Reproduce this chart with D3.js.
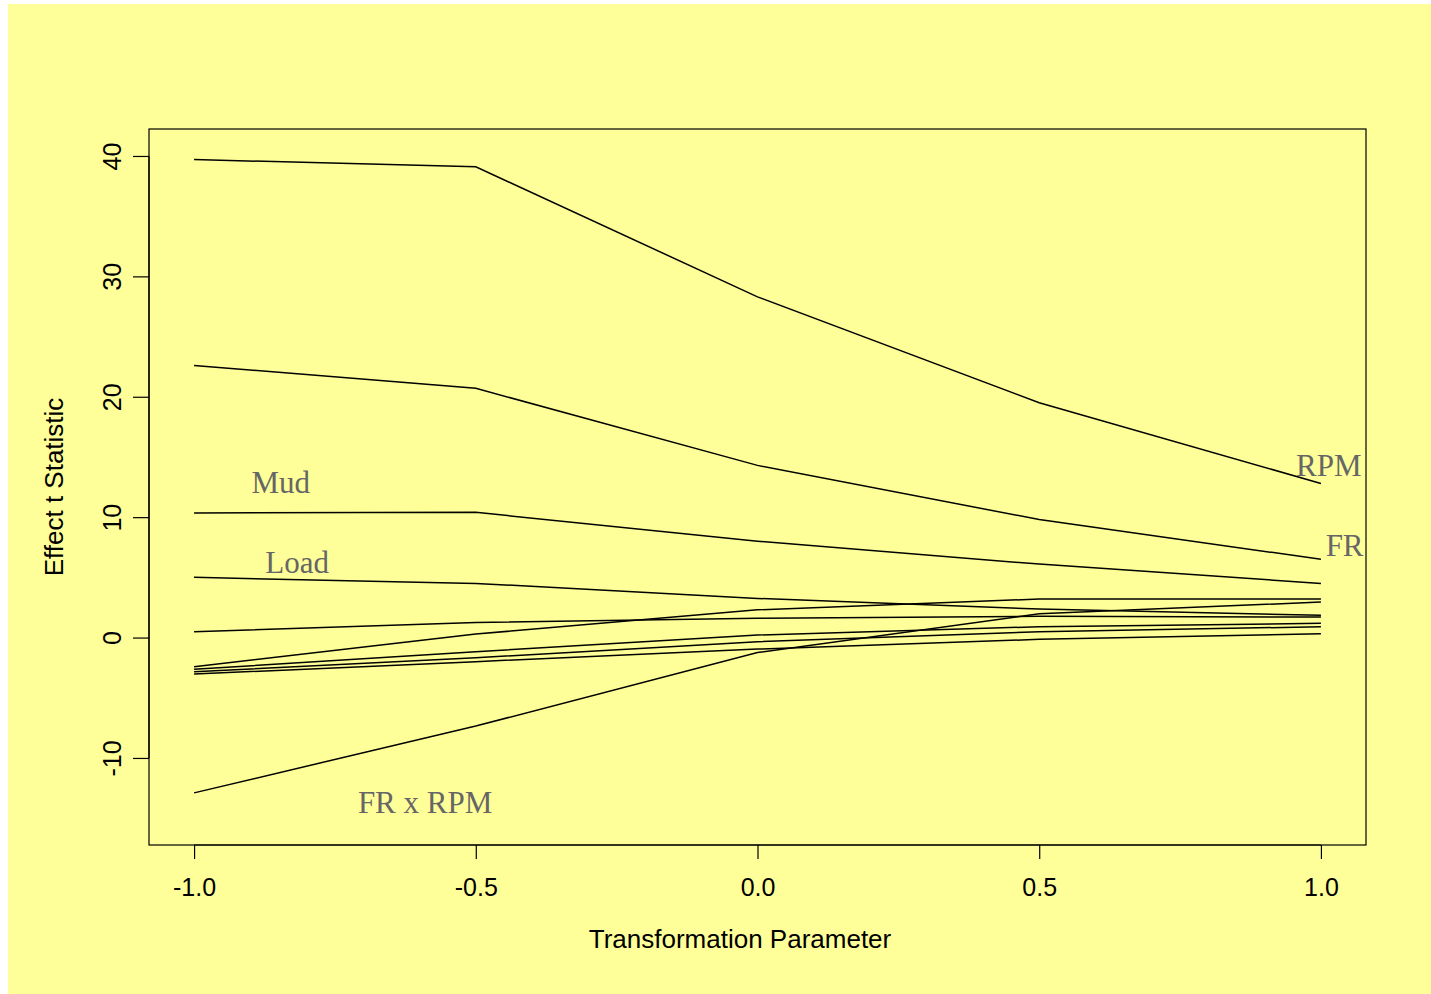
<!DOCTYPE html>
<html>
<head>
<meta charset="utf-8">
<script src="https://cdn.jsdelivr.net/npm/d3@7"></script>
<style>
  html, body { margin: 0; padding: 0; background: #ffffff; }
  svg { display: block; }
</style>
</head>
<body>
<svg id="chart" width="1431" height="994"></svg>
<script>
// Transformation parameter values (x) shared by every effect curve
const lambdas = [-1.0, -0.5, 0.0, 0.5, 1.0];

// Effect t statistics per transformation parameter
const rpm     = [39.7, 39.1, 28.3, 19.5, 12.8];
const fr      = [22.6, 20.7, 14.3, 9.8, 6.5];
const mud     = [10.35, 10.4, 8.0, 6.1, 4.5];
const load    = [5.0, 4.5, 3.25, 2.37, 1.85];
const effectB = [-2.43, 0.29, 2.3, 3.2, 3.2];
const effectC = [0.48, 1.26, 1.6, 1.76, 1.7];
const effectD = [-2.64, -1.18, 0.21, 0.9, 1.18];
const effectE = [-2.84, -1.68, -0.35, 0.48, 0.9];
const effectF = [-3.03, -2.0, -0.96, -0.15, 0.32];
const frXrpm  = [-12.9, -7.35, -1.25, 1.98, 2.95];

const seriesList = [rpm, fr, mud, load, effectB, effectC, effectD, effectE, effectF, frXrpm];

// Curve labels: text, x (parameter), y (statistic) at text baseline
const labelText = ["RPM", "FR", "Mud", "Load", "FR x RPM"];
const labelX    = [1.014, 1.042, -0.846, -0.817, -0.59];
const labelY    = [13.4, 6.77, 12.0, 5.36, -14.58];

const xTicks = [-1.0, -0.5, 0.0, 0.5, 1.0];
const yTicks = [-10, 0, 10, 20, 30, 40];

// plain hyphen for negative tick labels
const hyphen = f => d => f(d).replace("\u2212", "-");

const svg = d3.select("#chart");

// page background panel
svg.append("rect")
  .attr("x", 8).attr("y", 4)
  .attr("width", 1431 - 8).attr("height", 994 - 4)
  .attr("fill", "#ffff99");

const plotL = 149, plotR = 1366, plotT = 129, plotB = 845;

const x = d3.scaleLinear().domain([-1.08, 1.08]).range([plotL, plotR]);
const y = d3.scaleLinear().domain([-17.23, 42.24]).range([plotB, plotT]);

// plot frame
svg.append("rect")
  .attr("x", plotL).attr("y", plotT)
  .attr("width", plotR - plotL).attr("height", plotB - plotT)
  .attr("fill", "none").attr("stroke", "#000").attr("stroke-width", 1.2);

// x axis
const xAxis = svg.append("g")
  .attr("transform", `translate(0,${plotB})`)
  .call(d3.axisBottom(x).tickValues(xTicks).tickFormat(hyphen(d3.format(".1f"))).tickSize(14).tickPadding(19));
xAxis.select(".domain").attr("d", `M${x(-1)},0H${x(1)}`).attr("stroke-width", 1.2);
xAxis.selectAll(".tick line").attr("stroke-width", 1.2);
xAxis.selectAll(".tick text")
  .attr("font-family", "Liberation Sans, Arial, sans-serif")
  .attr("font-size", 25).attr("fill", "#000");

// y axis with rotated labels
const yAxis = svg.append("g")
  .attr("transform", `translate(${plotL},0)`)
  .call(d3.axisLeft(y).tickValues(yTicks).tickSize(16).tickFormat(hyphen(d3.format("d"))));
yAxis.select(".domain").attr("d", `M0,${y(-10)}V${y(40)}`).attr("stroke-width", 1.2);
yAxis.selectAll(".tick line").attr("stroke-width", 1.2);
yAxis.selectAll(".tick text")
  .attr("x", null).attr("dy", null)
  .attr("text-anchor", "middle")
  .attr("font-family", "Liberation Sans, Arial, sans-serif")
  .attr("font-size", 25).attr("fill", "#000")
  .attr("transform", "translate(-28,0) rotate(-90)");

// effect curves
const line = d3.line()
  .x((d, i) => x(lambdas[i]))
  .y(d => y(d));

svg.append("g")
  .selectAll("path")
  .data(seriesList)
  .join("path")
  .attr("d", line)
  .attr("fill", "none")
  .attr("stroke", "#000")
  .attr("stroke-width", 1.5);

// curve labels
svg.append("g")
  .selectAll("text")
  .data(labelText)
  .join("text")
  .attr("x", (d, i) => x(labelX[i]))
  .attr("y", (d, i) => y(labelY[i]))
  .attr("text-anchor", "middle")
  .attr("font-family", "Liberation Serif, Times New Roman, serif")
  .attr("font-size", 31)
  .attr("fill", "#666666")
  .text(d => d);

// axis titles
svg.append("text")
  .attr("x", 740).attr("y", 948)
  .attr("text-anchor", "middle")
  .attr("font-family", "Liberation Sans, Arial, sans-serif")
  .attr("font-size", 26).attr("fill", "#000")
  .text("Transformation Parameter");

svg.append("text")
  .attr("transform", `translate(63,${(plotT + plotB) / 2}) rotate(-90)`)
  .attr("text-anchor", "middle")
  .attr("font-family", "Liberation Sans, Arial, sans-serif")
  .attr("font-size", 26).attr("fill", "#000")
  .text("Effect t Statistic");
</script>
</body>
</html>
